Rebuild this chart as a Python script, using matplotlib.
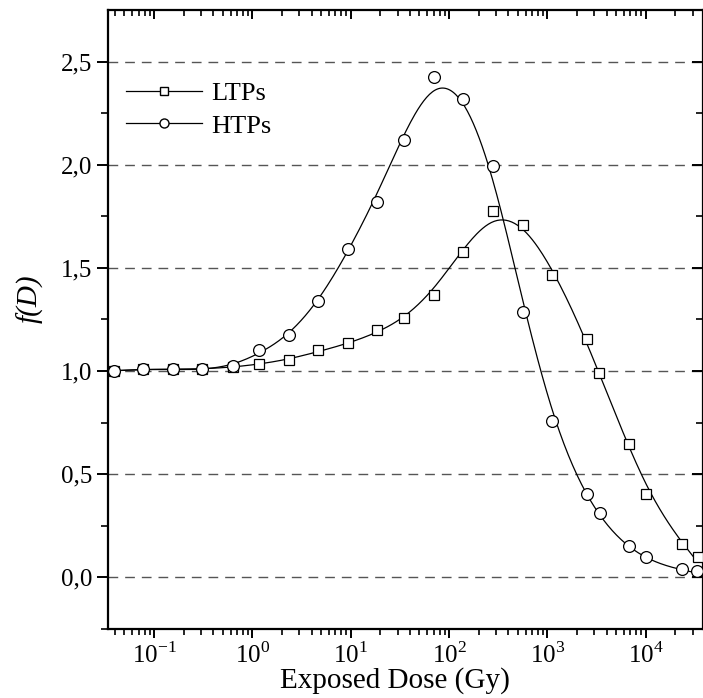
import numpy as np
import matplotlib
matplotlib.use("Agg")
import matplotlib.pyplot as plt
from matplotlib.lines import Line2D
from matplotlib.ticker import LogLocator, FixedLocator, NullFormatter

plt.rcParams['font.family'] = ['Liberation Serif', 'DejaVu Serif']
plt.rcParams['mathtext.fontset'] = 'custom'
plt.rcParams['mathtext.rm'] = 'Liberation Serif'

# dose values (Gy)
dose_ltp = [0.039, 0.078, 0.155, 0.31, 0.63, 1.16, 2.34, 4.69, 9.3, 18.7, 35, 70,
            140, 279, 562, 1126, 2500, 3330, 6700, 10100, 23600, 33700]
f_ltp = [1.0, 1.01, 1.01, 1.01, 1.02, 1.035, 1.056, 1.10, 1.137, 1.198, 1.256, 1.369,
         1.577, 1.776, 1.706, 1.466, 1.155, 0.989, 0.647, 0.406, 0.16, 0.10]

dose_htp = [0.039, 0.078, 0.155, 0.31, 0.63, 1.16, 2.34, 4.69, 9.3, 18.7, 35, 70,
            140, 279, 562, 1126, 2500, 3390, 6700, 10100, 23600, 33200]
f_htp = [1.0, 1.011, 1.011, 1.011, 1.024, 1.103, 1.174, 1.34, 1.593, 1.819, 2.122, 2.424,
         2.317, 1.992, 1.288, 0.756, 0.402, 0.314, 0.153, 0.097, 0.039, 0.029]

y_ticks = [0.0, 0.5, 1.0, 1.5, 2.0, 2.5]
y_labels = ['0,0', '0,5', '1,0', '1,5', '2,0', '2,5']
x_ticks = [0.1, 1, 10, 100, 1000, 10000]
x_labels = ['$10^{-1}$', '$10^{0}$', '$10^{1}$', '$10^{2}$', '$10^{3}$', '$10^{4}$']


def smooth_fit(x, y, lam=8e-3, n=400):
    # penalised (smoothing-spline like) fit in log10(dose)
    u = np.log10(x)
    y = np.asarray(y, float)
    grid = np.linspace(u.min(), u.max(), n)
    h = grid[1] - grid[0]
    B = np.zeros((len(u), n))
    for i, ui in enumerate(u):
        j = min(int((ui - grid[0]) / h), n - 2)
        t = (ui - grid[j]) / h
        B[i, j] = 1 - t
        B[i, j + 1] = t
    D = np.diff(np.eye(n), 2, axis=0)
    A = B.T @ B + lam / h ** 3 * D.T @ D
    g = np.linalg.solve(A, B.T @ y)
    return 10 ** grid, g


fig = plt.figure(figsize=(7.03, 6.98), dpi=100)
ax = fig.add_axes([0.1536, 0.0989, 0.846, 0.8868])

for yt in y_ticks:
    ax.axhline(yt, color='#555555', lw=1.0, ls=(0, (7, 5)), zorder=1)

xs, ys = smooth_fit(dose_ltp, f_ltp)
ax.plot(xs, ys, color='black', lw=0.9, zorder=2)
xs, ys = smooth_fit(dose_htp, f_htp)
ax.plot(xs, ys, color='black', lw=0.9, zorder=2)

ax.plot(dose_ltp, f_ltp, ls='none', marker='s', ms=7.5, mfc='white', mec='black',
        mew=0.9, zorder=3)
ax.plot(dose_htp, f_htp, ls='none', marker='o', ms=8.5, mfc='white', mec='black',
        mew=0.9, zorder=4)

ax.set_xscale('log')
ax.set_xlim(0.034, 38000)
ax.set_ylim(-0.25, 2.75)

ax.xaxis.set_major_locator(FixedLocator(x_ticks))
ax.set_xticklabels(x_labels)
ax.xaxis.set_minor_locator(LogLocator(base=10, subs=np.arange(2, 10), numticks=20))
ax.xaxis.set_minor_formatter(NullFormatter())
ax.set_yticks(y_ticks)
ax.set_yticklabels(y_labels)
ax.yaxis.set_minor_locator(FixedLocator([-0.25, 0.25, 0.75, 1.25, 1.75, 2.25]))

ax.tick_params(axis='both', which='major', labelsize=18, width=1.4, color='black')
ax.tick_params(axis='x', which='major', length=6.5, direction='out', top=True, pad=3)
ax.tick_params(axis='x', which='minor', length=4, width=1.2, direction='out', top=True)
ax.tick_params(axis='y', which='major', length=8, direction='out', right=True, pad=3)
ax.tick_params(axis='y', which='minor', length=5, width=1.2, direction='out', right=True)
ax.tick_params(which='both', top=True, right=True)
for t in ax.xaxis.get_major_ticks() + ax.xaxis.get_minor_ticks():
    t.tick2line.set_marker(3)
for t in ax.yaxis.get_major_ticks() + ax.yaxis.get_minor_ticks():
    t.tick2line.set_marker(0)

for s in ax.spines.values():
    s.set_linewidth(1.6)

ax.set_xlabel('Exposed Dose (Gy)', fontsize=21, labelpad=0)
ax.xaxis.set_label_coords(0.482, -0.061)
ax.set_ylabel('f(D)', fontsize=21, style='italic')
ax.yaxis.set_label_coords(-0.108, 0.533)

handles = [
    Line2D([], [], color='black', lw=0.9, marker='s', ms=6, mfc='white', mec='black'),
    Line2D([], [], color='black', lw=0.9, marker='o', ms=6.5, mfc='white', mec='black'),
]
ax.legend(handles, ['LTPs', 'HTPs'], loc='upper left', bbox_to_anchor=(-0.01, 0.923),
          frameon=False, fontsize=19, handlelength=2.9, handletextpad=0.35,
          labelspacing=0.35, borderaxespad=0.5)

fig.savefig('out.png', dpi=100)
